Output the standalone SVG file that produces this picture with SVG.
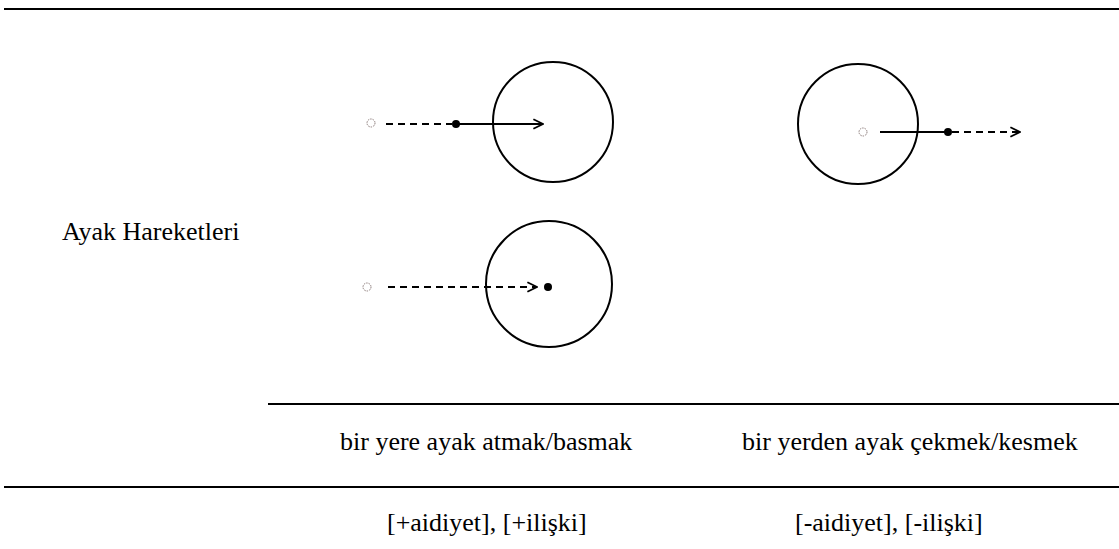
<svg xmlns="http://www.w3.org/2000/svg" width="1119" height="549" viewBox="0 0 1119 549">
  <style>
    .rule { stroke: #000; stroke-width: 2; }
    .ring { fill: none; stroke: #000; stroke-width: 2; }
    .start { fill: #fff; stroke: #8a7a78; stroke-width: 1; stroke-dasharray: 1.5 1; }
    .dot { fill: #000; }
    .solid { stroke: #000; stroke-width: 2; fill: none; }
    .dash { stroke: #000; stroke-width: 2; fill: none; stroke-dasharray: 7 5; }
    .txt { font-family: "Liberation Serif", "Times New Roman", serif; font-size: 26px; fill: #000; }
  </style>
  <defs>
    <marker id="arrow" viewBox="0 0 10 10" refX="9" refY="5" markerWidth="6" markerHeight="6" orient="auto" markerUnits="strokeWidth">
      <path d="M1,1 L9,5 L1,9" fill="none" stroke="#000" stroke-width="1.5"/>
    </marker>
  </defs>
  <rect width="1119" height="549" fill="#fff"/>

  <!-- table rules -->
  <g id="rules">
    <line class="rule" x1="4" y1="9" x2="1119" y2="9"/>
    <line class="rule" x1="268" y1="404" x2="1119" y2="404"/>
    <line class="rule" x1="4" y1="487" x2="1119" y2="487"/>
  </g>

  <!-- row heading -->
  <g id="heading">
    <text class="txt" x="62" y="240">Ayak Hareketleri</text>
  </g>

  <!-- stepping into a place -->
  <g id="step-in">
    <circle class="ring" cx="553" cy="122" r="60"/>
    <circle class="start" cx="371" cy="123" r="4"/>
    <circle class="dot" cx="456" cy="124" r="4"/>
  </g>

  <!-- stepping into the centre -->
  <g id="step-center">
    <circle class="ring" cx="549" cy="284" r="63"/>
    <circle class="start" cx="367" cy="287" r="4"/>
    <circle class="dot" cx="548" cy="287" r="4"/>
  </g>

  <!-- stepping out of a place -->
  <g id="step-out">
    <circle class="ring" cx="858" cy="124" r="60"/>
    <circle class="start" cx="863" cy="132" r="4"/>
    <circle class="dot" cx="948" cy="132" r="4"/>
  </g>

  <!-- movement paths -->
  <g id="connectors">
    <line class="dash" x1="386" y1="124" x2="452" y2="124"/>
    <line class="solid" x1="456" y1="124" x2="543" y2="124" marker-end="url(#arrow)"/>
    <line class="dash" x1="388" y1="287" x2="537" y2="287" marker-end="url(#arrow)"/>
    <line class="solid" x1="880" y1="132" x2="946" y2="132"/>
    <line class="dash" x1="952" y1="132" x2="1020" y2="132" marker-end="url(#arrow)"/>
  </g>

  <!-- column labels -->
  <g id="labels">
    <text class="txt" x="340" y="450">bir yere ayak atmak/basmak</text>
    <text class="txt" x="742" y="450">bir yerden ayak çekmek/kesmek</text>
    <text class="txt" x="387" y="531">[+aidiyet], [+ilişki]</text>
    <text class="txt" x="795" y="531">[-aidiyet], [-ilişki]</text>
  </g>
</svg>
